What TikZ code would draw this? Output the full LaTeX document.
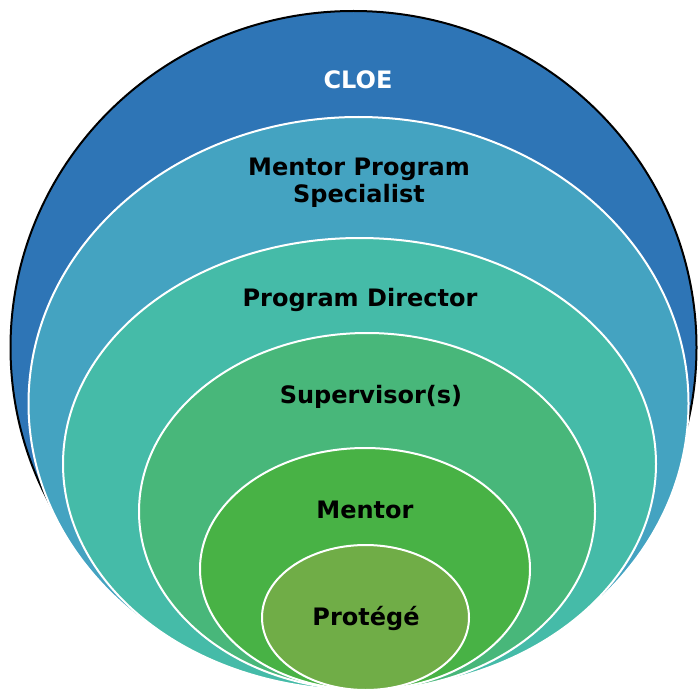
\documentclass[tikz,border=0pt]{standalone}
\usepackage{fontspec}
\setmainfont{DejaVu Sans}
\definecolor{ringA}{RGB}{46,117,182}
\definecolor{ringB}{RGB}{68,163,193}
\definecolor{ringC}{RGB}{69,187,168}
\definecolor{ringD}{RGB}{72,183,122}
\definecolor{ringE}{RGB}{72,178,69}
\definecolor{ringF}{RGB}{112,173,71}
\tikzset{
  outerring/.style={draw=black, line width=2bp},
  ring/.style={draw=white, line width=2bp},
  tag/.style={font=\fontsize{24bp}{27bp}\selectfont\bfseries, align=center, text=black, inner sep=0pt},
}
\begin{document}
\begin{tikzpicture}[x=1bp,y=-1bp]
  \useasboundingbox (0,0) rectangle (698,692);
  % nested target rings, all touching near the bottom
  \fill[ringA] (353.5,347.5) ellipse [x radius=343, y radius=336.5];
  \draw[outerring] (353.5,347.5) ellipse [x radius=343, y radius=336.5];
  \draw[ring, fill=ringB] (358.5,403.5) ellipse [x radius=330, y radius=286.5];
  \draw[ring, fill=ringC] (359.5,464) ellipse [x radius=296.5, y radius=226];
  \draw[ring, fill=ringD] (367,511.5) ellipse [x radius=228, y radius=178.5];
  \draw[ring, fill=ringE] (365,569) ellipse [x radius=165, y radius=121];
  \draw[ring, fill=ringF] (365.5,617.5) ellipse [x radius=103.5, y radius=72.5];
  % labels
  \node[tag, text=white] (cloe) at (358,80) {CLOE};
  \node[tag] (mps) at (359,183) {Mentor Program\\Specialist};
  \node[tag] (pd) at (360,300) {Program Director};
  \node[tag] (sup) at (371,397) {Supervisor(s)};
  \node[tag] (men) at (365,510) {Mentor};
  \node[tag] (pro) at (366,618) {Protégé};
\end{tikzpicture}
\end{document}
